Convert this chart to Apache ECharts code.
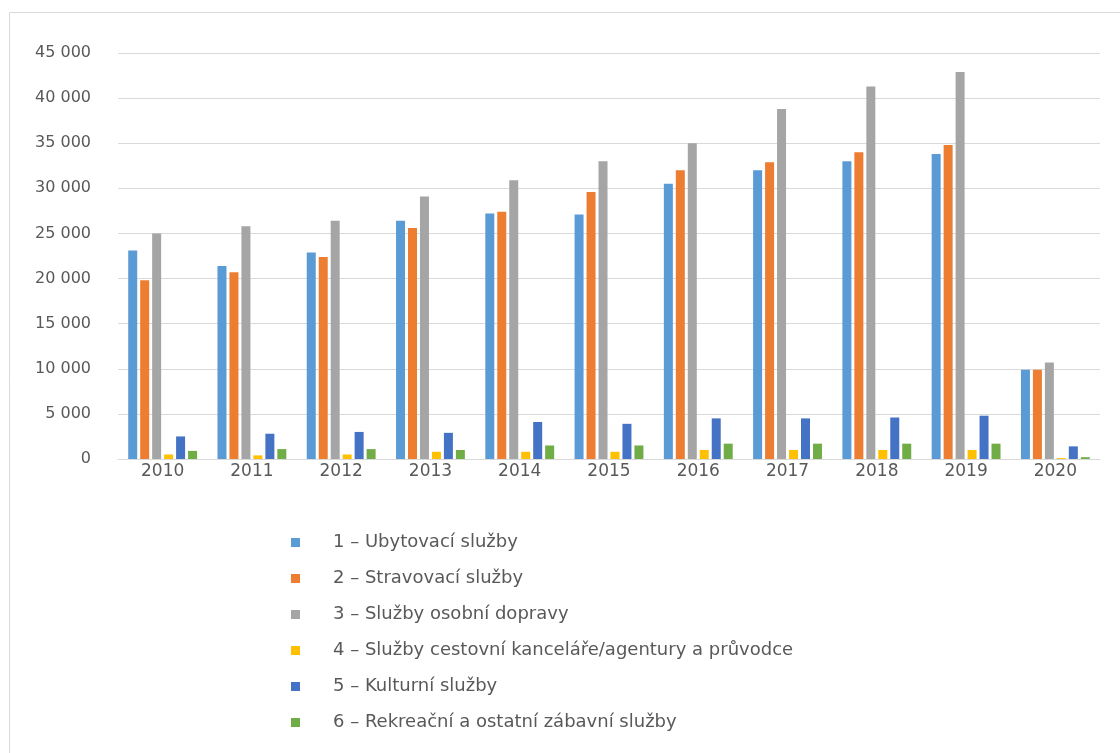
<!DOCTYPE html>
<html><head><meta charset="utf-8">
<script src="https://cdn.jsdelivr.net/npm/echarts@6/dist/echarts.min.js"></script>
<style>html,body{margin:0;padding:0;background:#fff;}#c{width:1120px;height:753px;}</style>
</head><body><div id="c"></div>
<script>
const years = ['2010','2011','2012','2013','2014','2015','2016','2017','2018','2019','2020'];
const seriesNames = [
  '1 – Ubytovací služby',
  '2 – Stravovací služby',
  '3 – Služby osobní dopravy',
  '4 – Služby cestovní kanceláře/agentury a průvodce',
  '5 – Kulturní služby',
  '6 – Rekreační a ostatní zábavní služby'
];
const ubytovaci  = [23100, 21400, 22900, 26400, 27200, 27100, 30500, 32000, 33000, 33800, 9900];
const stravovaci = [19800, 20700, 22400, 25600, 27400, 29600, 32000, 32900, 34000, 34800, 9900];
const doprava    = [25000, 25800, 26400, 29100, 30900, 33000, 35000, 38800, 41300, 42900, 10700];
const cestovni   = [500, 400, 500, 800, 800, 800, 1000, 1000, 1000, 1000, 100];
const kulturni   = [2500, 2800, 3000, 2900, 4100, 3900, 4500, 4500, 4600, 4800, 1400];
const rekreacni  = [900, 1100, 1100, 1000, 1500, 1500, 1700, 1700, 1700, 1700, 200];
const yTicks = [0, 5000, 10000, 15000, 20000, 25000, 30000, 35000, 40000, 45000];

const colors = ['#5B9BD5', '#ED7D31', '#A5A5A5', '#FFC000', '#4472C4', '#70AD47'];
const allData = [ubytovaci, stravovaci, doprava, cestovni, kulturni, rekreacni];
const font = '"DejaVu Sans", "Liberation Sans", sans-serif';

const chart = echarts.init(document.getElementById('c'));
chart.setOption({
  animation: false,
  color: colors,
  graphic: [{
    type: 'rect', left: 7, top: 10,
    shape: { width: 1120, height: 742 },
    style: { fill: 'none', stroke: '#d9d9d9', lineWidth: 1 }
  }],
  grid: { left: 118, right: 20, top: 53, bottom: 294 },
  legend: {
    orient: 'vertical', left: 291, top: 533, padding: 0,
    icon: 'rect', itemWidth: 9, itemHeight: 9, itemGap: 17,
    data: seriesNames,
    textStyle: { fontFamily: font, fontSize: 18, color: '#595959', lineHeight: 19, padding: [0, 0, 0, 28] }
  },
  xAxis: {
    type: 'category', data: years,
    axisLine: { lineStyle: { color: '#d9d9d9' } },
    axisTick: { show: false },
    axisLabel: { fontFamily: font, fontSize: 17, color: '#595959', margin: 4 }
  },
  yAxis: {
    type: 'value', min: 0, max: 45000, interval: 5000,
    axisLine: { show: false }, axisTick: { show: false },
    splitLine: { lineStyle: { color: '#d9d9d9', width: 1 } },
    axisLabel: {
      fontFamily: font, fontSize: 16, color: '#595959', margin: 27,
      formatter: v => yTicks.includes(v) ? String(v).replace(/\B(?=(\d{3})+(?!\d))/g, ' ') : ''
    }
  },
  series: seriesNames.map((n, i) => ({
    name: n, type: 'bar', data: allData[i],
    barWidth: 9, barGap: '33%'
  }))
});
</script></body></html>
